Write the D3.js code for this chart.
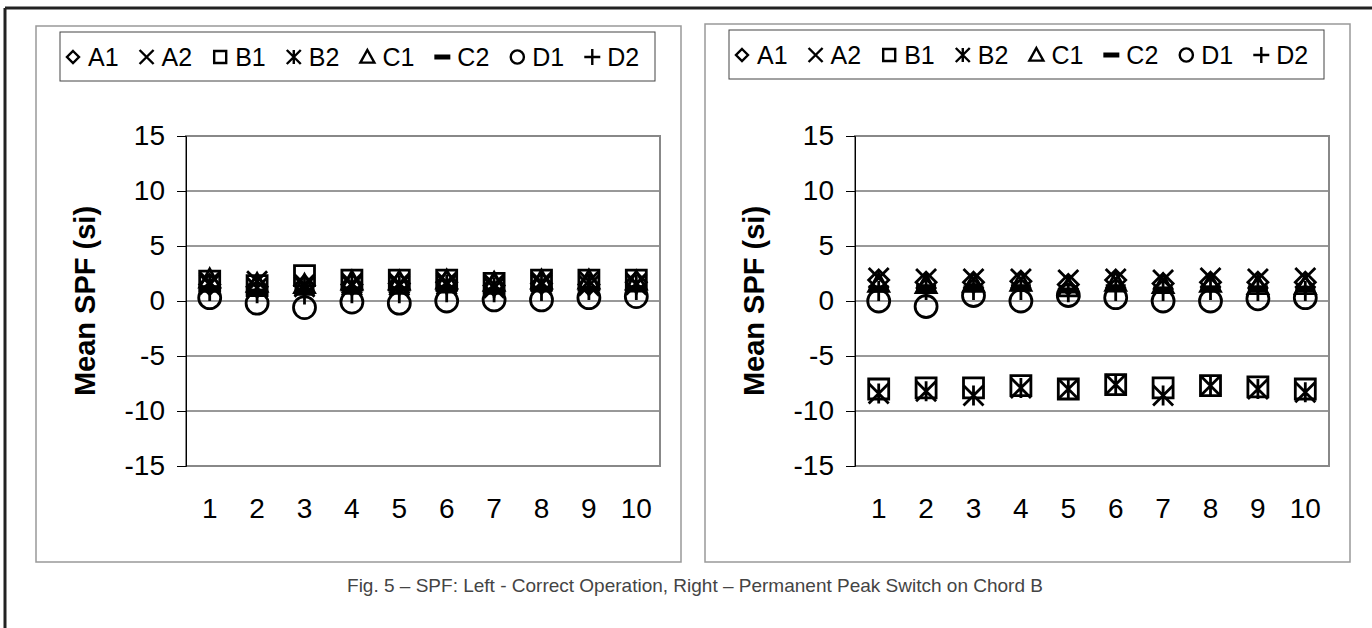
<!DOCTYPE html>
<html>
<head>
<meta charset="utf-8">
<script src="https://cdn.jsdelivr.net/npm/d3@7"></script>
<style>
  html, body { margin: 0; padding: 0; background: #fff; }
  svg { display: block; }
  text { font-family: "Liberation Sans", Arial, sans-serif; }
</style>
</head>
<body>
<svg id="chart" width="1372" height="628"></svg>
<script>
// ---------- data ----------
const categories = ["1","2","3","4","5","6","7","8","9","10"];
const yTicks = [15, 10, 5, 0, -5, -10, -15];
const gridValues = [10, 5, 0, -5, -10];
const seriesNames = ["A1","A2","B1","B2","C1","C2","D1","D2"];
const seriesShapes = ["diamond","x","square","star","triangle","dash","circle","plus"];

// Left: correct operation
const leftA1 = [1.5, 1.3, 1.4, 1.5, 1.6, 1.7, 1.4, 1.6, 1.5, 1.7];
const leftA2 = [1.7, 1.8, 1.5, 1.6, 1.6, 1.7, 1.5, 1.7, 1.8, 1.6];
const leftB1 = [1.8, 1.4, 2.3, 1.9, 1.9, 1.9, 1.6, 1.9, 1.9, 1.9];
const leftB2 = [1.5, 1.2, 1.3, 1.4, 1.4, 1.5, 1.2, 1.5, 1.4, 1.5];
const leftC1 = [2.0, 1.6, 1.5, 1.8, 1.8, 1.9, 1.7, 1.9, 1.9, 1.8];
const leftC2 = [1.2, 0.9, 1.0, 1.1, 1.1, 1.2, 1.0, 1.1, 1.1, 1.0];
const leftD1 = [0.3, -0.2, -0.6, -0.1, -0.2, 0.0, 0.1, 0.1, 0.3, 0.4];
const leftD2 = [0.9, 0.7, 0.6, 0.7, 0.7, 0.8, 0.8, 0.9, 1.0, 1.0];

// Right: permanent peak switch on chord B
const rightA1 = [1.9, 1.7, 1.7, 1.8, 1.5, 1.9, 1.6, 1.7, 1.7, 1.7];
const rightA2 = [2.1, 2.0, 2.0, 2.0, 1.9, 2.0, 1.9, 2.1, 2.0, 2.1];
const rightB1 = [-8.0, -7.9, -7.9, -7.7, -8.0, -7.6, -7.9, -7.7, -7.8, -8.0];
const rightB2 = [-8.4, -8.2, -8.6, -7.9, -8.0, -7.6, -8.6, -7.7, -8.0, -8.3];
const rightC1 = [1.6, 1.5, 1.6, 1.7, 1.2, 1.7, 1.5, 1.6, 1.4, 1.4];
const rightC2 = [1.2, 1.3, 1.2, 1.3, 1.0, 1.3, 1.1, 1.2, 1.2, 1.1];
const rightD1 = [0.0, -0.5, 0.5, 0.0, 0.5, 0.3, 0.0, 0.0, 0.2, 0.3];
const rightD2 = [0.9, 1.0, 1.0, 1.0, 0.8, 0.9, 0.9, 1.0, 0.9, 0.9];

const yTitle = "Mean SPF (si)";
const caption = "Fig. 5 \u2013 SPF: Left - Correct Operation, Right \u2013 Permanent Peak Switch on Chord B";

const leftSeries = [leftA1, leftA2, leftB1, leftB2, leftC1, leftC2, leftD1, leftD2];
const rightSeries = [rightA1, rightA2, rightB1, rightB2, rightC1, rightC2, rightD1, rightD2];

// ---------- drawing ----------
const svg = d3.select("#chart");

// outer frame
svg.append("line").attr("x1", 5).attr("x2", 1372).attr("y1", 8).attr("y2", 8)
  .attr("stroke", "#222").attr("stroke-width", 3);
svg.append("line").attr("x1", 5).attr("x2", 5).attr("y1", 8).attr("y2", 628)
  .attr("stroke", "#222").attr("stroke-width", 3);

function markerPath(shape, s) {
  const h = s / 2;
  const p = d3.path();
  switch (shape) {
    case "diamond":
      p.moveTo(0, -h); p.lineTo(h, 0); p.lineTo(0, h); p.lineTo(-h, 0); p.closePath(); break;
    case "x":
      p.moveTo(-h, -h); p.lineTo(h, h); p.moveTo(h, -h); p.lineTo(-h, h); break;
    case "square":
      p.rect(-h, -h, s, s); break;
    case "star":
      p.moveTo(-h, -h); p.lineTo(h, h); p.moveTo(h, -h); p.lineTo(-h, h);
      p.moveTo(0, -h); p.lineTo(0, h); break;
    case "triangle":
      p.moveTo(0, -h); p.lineTo(h, h * 0.8); p.lineTo(-h, h * 0.8); p.closePath(); break;
    case "dash":
      p.moveTo(-h, 0); p.lineTo(h, 0); break;
    case "circle":
      p.arc(0, 0, h * 1.1, 0, 2 * Math.PI); break;
    case "plus":
      p.moveTo(-h, 0); p.lineTo(h, 0); p.moveTo(0, -h); p.lineTo(0, h); break;
  }
  return p.toString();
}

function drawPanel(ox, panelTop, series) {
  const g = svg.append("g").attr("transform", `translate(${ox},0)`);

  // panel box
  g.append("rect").attr("x", 36).attr("y", panelTop).attr("width", 645).attr("height", 562 - panelTop)
    .attr("fill", "none").attr("stroke", "#999").attr("stroke-width", 1.5);

  // legend box
  const legTop = panelTop + 6;
  g.append("rect").attr("x", 60).attr("y", legTop).attr("width", 595).attr("height", 49)
    .attr("fill", "#fff").attr("stroke", "#444").attr("stroke-width", 1);

  const legSizes = { diamond: 12, x: 14, square: 12, star: 14, triangle: 14, dash: 16, circle: 12, plus: 16 };
  let lx = 73;
  const ly = legTop + 25;
  seriesNames.forEach((name, i) => {
    const shape = seriesShapes[i];
    g.append("path").attr("d", markerPath(shape, legSizes[shape]))
      .attr("transform", `translate(${lx},${ly})`)
      .attr("fill", "none").attr("stroke", "#000")
      .attr("stroke-width", shape === "dash" ? 5 : 2.4);
    const t = g.append("text").attr("x", lx + 15).attr("y", ly + 9)
      .attr("font-size", 25).attr("fill", "#000").text(name);
    const w = t.node().getComputedTextLength();
    lx = lx + 15 + w + 28;
  });

  // scales
  const x = d3.scaleBand().domain(categories).range([186, 660]).padding(0);
  const y = d3.scaleLinear().domain([-15, 15]).range([466, 136]);

  // gridlines
  g.append("g").selectAll("line").data(gridValues).join("line")
    .attr("x1", 186).attr("x2", 660)
    .attr("y1", d => y(d)).attr("y2", d => y(d))
    .attr("stroke", "#333").attr("stroke-width", 1);

  // plot border
  g.append("rect").attr("x", 186).attr("y", 136).attr("width", 474).attr("height", 330)
    .attr("fill", "none").attr("stroke", "#888").attr("stroke-width", 2);

  // y axis
  const yAxis = d3.axisLeft(y).tickValues(yTicks).tickSize(9).tickPadding(12)
    .tickFormat(d => String(d));
  const ya = g.append("g").attr("transform", "translate(186,0)").call(yAxis);
  ya.select(".domain").attr("stroke", "#000").attr("stroke-width", 1);
  ya.selectAll(".tick line").attr("stroke", "#000");
  ya.selectAll(".tick text").attr("font-size", 28).attr("fill", "#000")
    .attr("font-family", "'Liberation Sans', Arial, sans-serif");

  // x axis labels
  const xAxis = d3.axisBottom(x).tickSize(0).tickPadding(32);
  const xa = g.append("g").attr("transform", "translate(0,466)").call(xAxis);
  xa.select(".domain").remove();
  xa.selectAll(".tick text").attr("font-size", 28).attr("fill", "#000")
    .attr("font-family", "'Liberation Sans', Arial, sans-serif");

  // y title
  g.append("text")
    .attr("transform", `translate(95,${y(0)}) rotate(-90)`)
    .attr("text-anchor", "middle")
    .attr("font-size", 29).attr("font-weight", "bold").attr("fill", "#000")
    .text(yTitle);

  // markers
  series.forEach((vals, si) => {
    const shape = seriesShapes[si];
    g.append("g").selectAll("path").data(vals).join("path")
      .attr("d", markerPath(shape, 20))
      .attr("transform", (d, i) => `translate(${x(categories[i]) + x.bandwidth() / 2},${y(d)})`)
      .attr("fill", "none").attr("stroke", "#000")
      .attr("stroke-width", shape === "dash" ? 5 : 2.8);
  });
}

drawPanel(0, 26, leftSeries);
drawPanel(669, 24, rightSeries);

// caption
svg.append("text").attr("x", 695).attr("y", 592).attr("text-anchor", "middle")
  .attr("font-size", 19).attr("fill", "#444").text(caption);
</script>
</body>
</html>
